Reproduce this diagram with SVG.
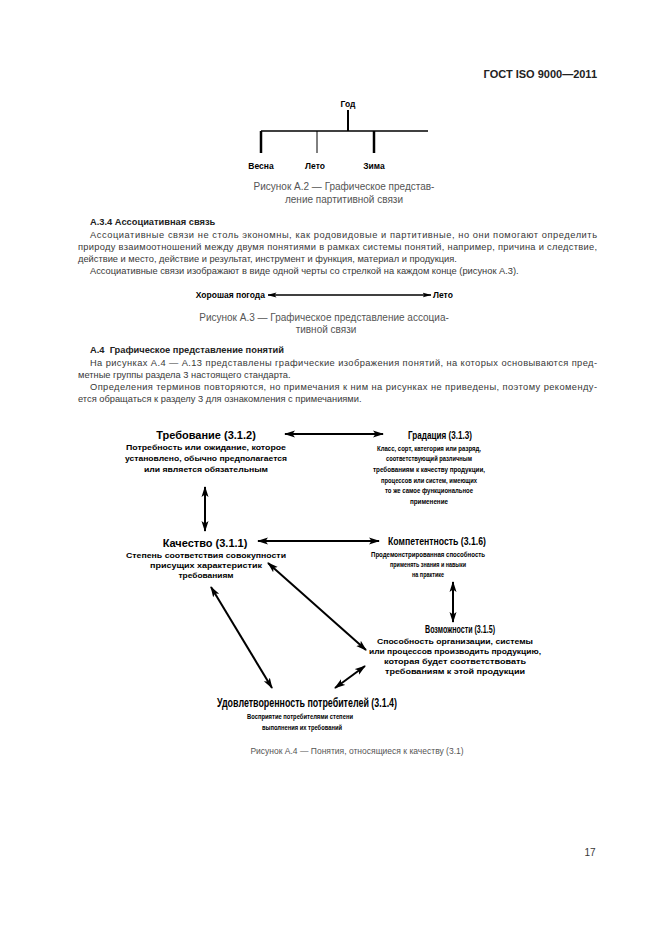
<svg xmlns="http://www.w3.org/2000/svg" width="661" height="935" viewBox="0 0 661 935">
<style>
  .hdr{font-family:"Liberation Sans",Arial,sans-serif;font-weight:bold;font-size:11px;fill:#222}
  .body{font-family:"Liberation Sans",Arial,sans-serif;font-size:9.3px;fill:#383838}
  .bh{font-family:"Liberation Sans",Arial,sans-serif;font-size:9.3px;font-weight:bold;fill:#222;white-space:pre}
  .cap{font-family:"Liberation Sans",Arial,sans-serif;font-size:10px;fill:#555;text-anchor:middle}
  .lbl{font-family:"Liberation Sans",Arial,sans-serif;font-size:8.5px;font-weight:bold;fill:#000}
  .ttl{font-family:"Liberation Sans",Arial,sans-serif;font-size:11px;font-weight:bold;fill:#000;text-anchor:middle}
  .ttl2{font-family:"Liberation Sans",Arial,sans-serif;font-size:12px;font-weight:bold;fill:#000;text-anchor:middle}
  .dsc{font-family:"Liberation Sans",Arial,sans-serif;font-size:8px;font-weight:bold;fill:#000;text-anchor:middle}
  .ln{stroke:#000;fill:none}
  .arr{stroke:#000;stroke-width:2;fill:none;marker-start:url(#ah);marker-end:url(#ah)}
  .arrs{stroke:#000;stroke-width:1.5;fill:none;marker-start:url(#ahs);marker-end:url(#ahs)}
</style>
<defs>
  <marker id="ah" markerUnits="userSpaceOnUse" markerWidth="11" markerHeight="8" viewBox="0 0 11 8" refX="10" refY="4" orient="auto-start-reverse">
    <path d="M0,0.5 L11,4 L0,7.5 L2.5,4 z" fill="#000"/>
  </marker>
  <marker id="ahs" markerUnits="userSpaceOnUse" markerWidth="9" markerHeight="6" viewBox="0 0 9 6" refX="8.5" refY="3" orient="auto-start-reverse">
    <path d="M0,0.5 L9,3 L0,5.5 L2,3 z" fill="#000"/>
  </marker>
</defs>
<rect width="661" height="935" fill="#fff"/>

<text class="hdr" x="597" y="78" text-anchor="end">ГОСТ ISO 9000—2011</text>

<!-- Figure A.2 -->
<g id="connectors-a2">
  <line class="ln" x1="348" y1="110" x2="348" y2="131" stroke-width="2"/>
  <line class="ln" x1="261" y1="131" x2="428" y2="131" stroke-width="1.5"/>
  <line class="ln" x1="261" y1="131" x2="261" y2="153" stroke-width="2.5"/>
  <line class="ln" x1="317" y1="131" x2="317" y2="153" stroke-width="1"/>
  <line class="ln" x1="374" y1="131" x2="374" y2="153" stroke-width="2.5"/>
</g>
<g id="node-god"><text class="lbl" x="348" y="107" style="text-anchor:middle">Год</text></g>
<g id="node-vesna"><text class="lbl" x="261" y="169" style="text-anchor:middle">Весна</text></g>
<g id="node-leto"><text class="lbl" x="315" y="169" style="text-anchor:middle">Лето</text></g>
<g id="node-zima"><text class="lbl" x="374" y="169" style="text-anchor:middle">Зима</text></g>
<text class="cap" x="344" y="190">Рисунок А.2 — Графическое представ-</text>
<text class="cap" x="344" y="203">ление партитивной связи</text>

<!-- A.3.4 -->
<text class="bh" x="90" y="225">А.3.4 Ассоциативная связь</text>
<text class="body" x="90" y="238" textLength="507">Ассоциативные связи не столь экономны, как родовидовые и партитивные, но они помогают определить</text>
<text class="body" x="78" y="250" textLength="519">природу взаимоотношений между двумя понятиями в рамках системы понятий, например, причина и следствие,</text>
<text class="body" x="78" y="262">действие и место, действие и результат, инструмент и функция, материал и продукция.</text>
<text class="body" x="90" y="274">Ассоциативные связи изображают в виде одной черты со стрелкой на каждом конце (рисунок А.3).</text>

<!-- Figure A.3 -->
<g id="connectors-a3">
  <line class="arrs" x1="268" y1="295" x2="431" y2="295"/>
</g>
<g id="node-pogoda"><text class="lbl" x="265" y="298" style="text-anchor:end">Хорошая погода</text></g>
<g id="node-leto2"><text class="lbl" x="433" y="298" style="text-anchor:start">Лето</text></g>
<text class="cap" x="324" y="321">Рисунок А.3 — Графическое представление ассоциа-</text>
<text class="cap" x="326" y="333">тивной связи</text>

<!-- A.4 -->
<text class="bh" x="90" y="353">А.4  Графическое представление понятий</text>
<text class="body" x="90" y="366" textLength="507">На рисунках А.4 — А.13 представлены графические изображения понятий, на которых основываются пред-</text>
<text class="body" x="78" y="378">метные группы раздела 3 настоящего стандарта.</text>
<text class="body" x="90" y="390" textLength="507">Определения терминов повторяются, но примечания к ним на рисунках не приведены, поэтому рекоменду-</text>
<text class="body" x="78" y="402">ется обращаться к разделу 3 для ознакомления с примечаниями.</text>

<!-- Figure A.4 -->
<g id="connectors">
  <line class="arr" x1="285" y1="434" x2="383" y2="434"/>
  <line class="arr" x1="205" y1="487" x2="205" y2="531"/>
  <line class="arr" x1="258" y1="541" x2="379" y2="541"/>
  <line class="arr" x1="453" y1="582" x2="453" y2="622"/>
  <line class="arr" x1="268" y1="563" x2="366" y2="650"/>
  <line class="arr" x1="211" y1="587" x2="272" y2="688"/>
  <line class="arr" x1="335" y1="688" x2="365" y2="666"/>
</g>

<g id="node-trebovanie">
  <text class="ttl" x="206" y="439">Требование (3.1.2)</text>
  <text class="dsc" x="206" y="450" textLength="160" lengthAdjust="spacingAndGlyphs">Потребность или ожидание, которое</text>
  <text class="dsc" x="206" y="461" textLength="162" lengthAdjust="spacingAndGlyphs">установлено, обычно предполагается</text>
  <text class="dsc" x="206" y="472" textLength="124" lengthAdjust="spacingAndGlyphs">или является обязательным</text>
</g>

<g id="node-gradaciya">
  <text class="ttl" x="440" y="439" textLength="64" lengthAdjust="spacingAndGlyphs">Градация (3.1.3)</text>
  <text class="dsc" x="429" y="451" textLength="104" lengthAdjust="spacingAndGlyphs">Класс, сорт, категория или разряд,</text>
  <text class="dsc" x="429" y="461" textLength="86" lengthAdjust="spacingAndGlyphs">соответствующий различным</text>
  <text class="dsc" x="429" y="472" textLength="112" lengthAdjust="spacingAndGlyphs">требованиям к качеству продукции,</text>
  <text class="dsc" x="429" y="483" textLength="96" lengthAdjust="spacingAndGlyphs">процессов или систем, имеющих</text>
  <text class="dsc" x="429" y="493" textLength="88" lengthAdjust="spacingAndGlyphs">то же самое функциональное</text>
  <text class="dsc" x="429" y="504" textLength="38" lengthAdjust="spacingAndGlyphs">применение</text>
</g>

<g id="node-kachestvo">
  <text class="ttl" x="205" y="547">Качество (3.1.1)</text>
  <text class="dsc" x="206" y="558" textLength="160" lengthAdjust="spacingAndGlyphs">Степень соответствия совокупности</text>
  <text class="dsc" x="206" y="568" textLength="112" lengthAdjust="spacingAndGlyphs">присущих характеристик</text>
  <text class="dsc" x="206" y="578" textLength="55" lengthAdjust="spacingAndGlyphs">требованиям</text>
</g>

<g id="node-kompetentnost">
  <text class="ttl" x="437" y="545" textLength="98" lengthAdjust="spacingAndGlyphs">Компетентность (3.1.6)</text>
  <text class="dsc" x="428" y="557" textLength="114" lengthAdjust="spacingAndGlyphs">Продемонстрированная способность</text>
  <text class="dsc" x="428" y="567" textLength="76" lengthAdjust="spacingAndGlyphs">применять знания и навыки</text>
  <text class="dsc" x="428" y="577" textLength="32" lengthAdjust="spacingAndGlyphs">на практике</text>
</g>

<g id="node-vozmozhnosti">
  <text class="ttl" x="460" y="633" textLength="70" lengthAdjust="spacingAndGlyphs">Возможности (3.1.5)</text>
  <text class="dsc" x="455" y="644" textLength="156" lengthAdjust="spacingAndGlyphs">Способность организации, системы</text>
  <text class="dsc" x="455" y="654" textLength="172" lengthAdjust="spacingAndGlyphs">или процессов производить продукцию,</text>
  <text class="dsc" x="455" y="664" textLength="142" lengthAdjust="spacingAndGlyphs">которая будет соответствовать</text>
  <text class="dsc" x="455" y="674" textLength="140" lengthAdjust="spacingAndGlyphs">требованиям к этой продукции</text>
</g>

<g id="node-udovletvorennost">
  <text class="ttl2" x="307" y="707" textLength="180" lengthAdjust="spacingAndGlyphs">Удовлетворенность потребителей (3.1.4)</text>
  <text class="dsc" x="300" y="719" textLength="106" lengthAdjust="spacingAndGlyphs">Восприятие потребителями степени</text>
  <text class="dsc" x="302" y="730" textLength="80" lengthAdjust="spacingAndGlyphs">выполнения их требований</text>
</g>

<text class="cap" x="357" y="754" style="font-size:8.5px">Рисунок А.4 — Понятия, относящиеся к качеству (3.1)</text>

<text class="body" x="590" y="856" text-anchor="middle" style="font-size:10px">17</text>
</svg>
